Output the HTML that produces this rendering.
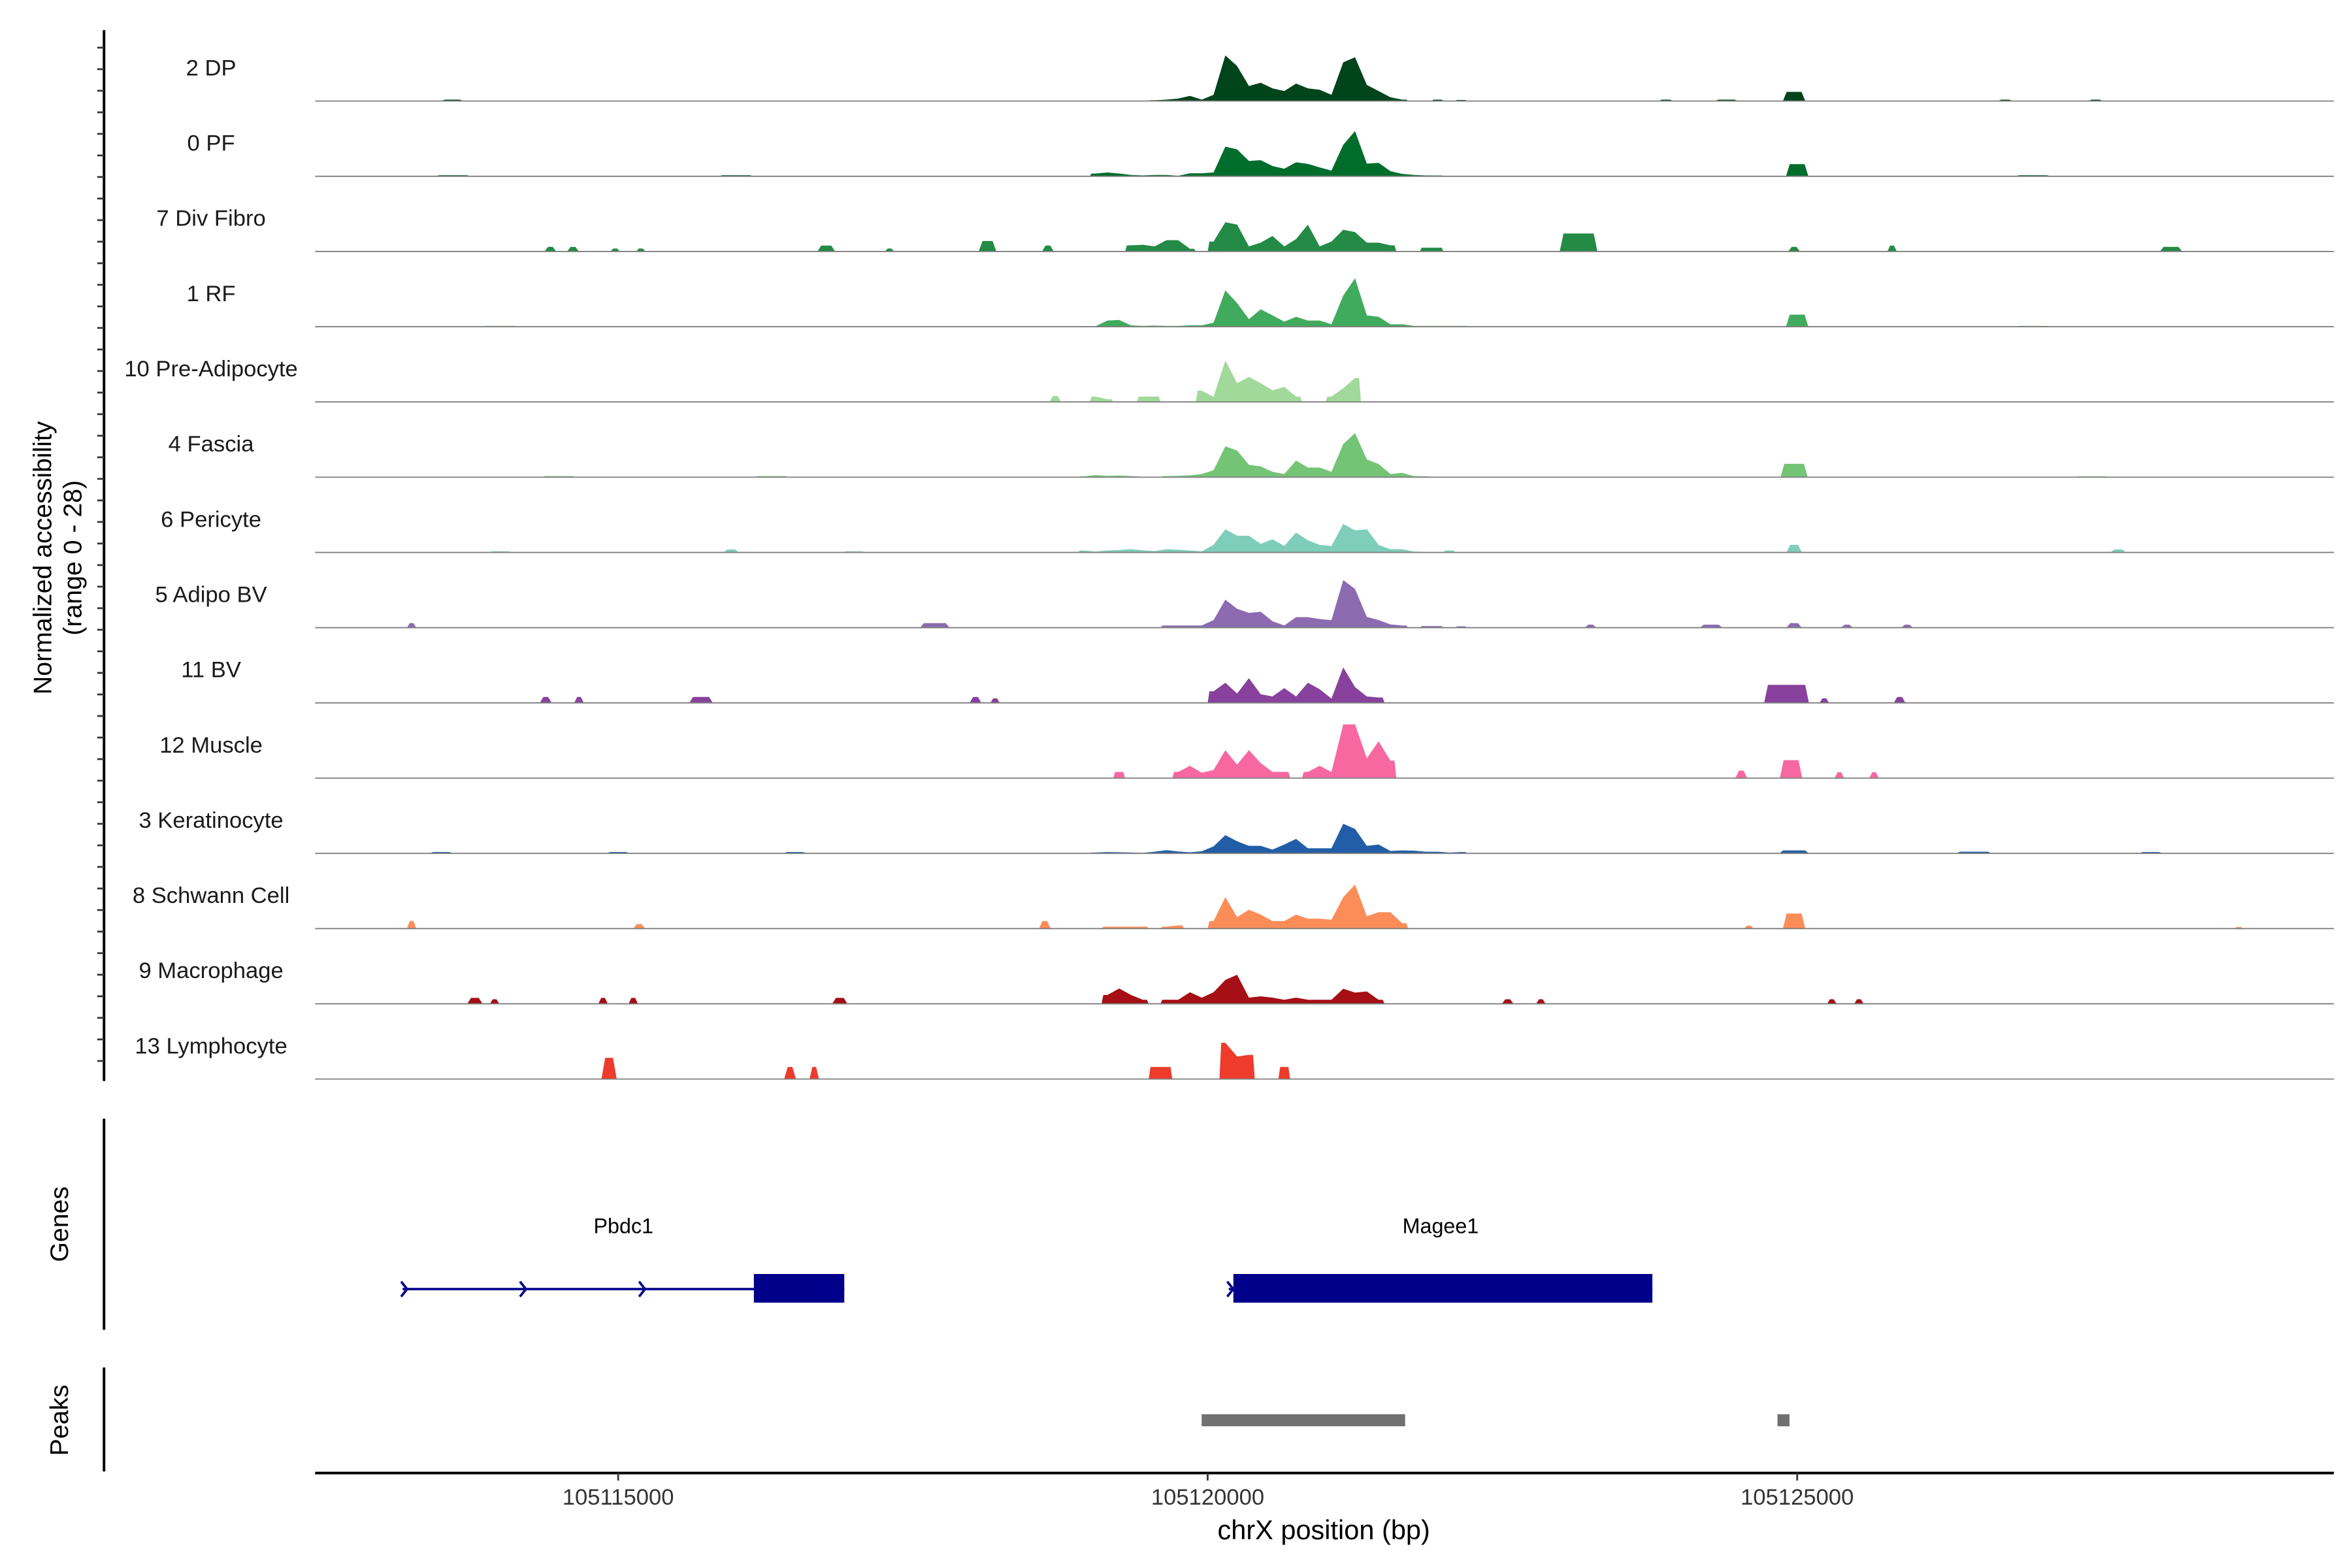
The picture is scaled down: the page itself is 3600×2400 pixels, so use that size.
<!DOCTYPE html>
<html><head><meta charset="utf-8"><style>
html,body{margin:0;padding:0;background:#fff;}
svg{display:block;font-family:"Liberation Sans",Arial,sans-serif;}
</style></head><body>
<svg id="chart" width="3600" height="2400" viewBox="0 0 1560 1040" xmlns="http://www.w3.org/2000/svg">
<g id="tracks"></g>
<g id="leftaxis"></g>
<text transform="translate(34,370) rotate(-90)" text-anchor="middle" font-size="17" fill="#000">Normalized accessibility</text>
<text transform="translate(54,370) rotate(-90)" text-anchor="middle" font-size="17" fill="#000">(range 0 - 28)</text>
<g>
<line x1="69" y1="742" x2="69" y2="882" stroke="#000" stroke-width="1.7"/>
<text transform="translate(45,812) rotate(-90)" text-anchor="middle" font-size="17">Genes</text>
<g id="genes"></g>
</g>
<g>
<line x1="69" y1="907" x2="69" y2="976" stroke="#000" stroke-width="1.7"/>
<text transform="translate(45,942) rotate(-90)" text-anchor="middle" font-size="17">Peaks</text>
<g id="peaks"></g>
</g>
<g id="xaxis">
<line x1="209" y1="977" x2="1548" y2="977" stroke="#000" stroke-width="1.7"/>
</g>
<text x="878" y="1021" text-anchor="middle" font-size="18">chrX position (bp)</text>
</svg>
<script>
const trackNames = ["2 DP","0 PF","7 Div Fibro","1 RF","10 Pre-Adipocyte","4 Fascia","6 Pericyte","5 Adipo BV","11 BV","12 Muscle","3 Keratinocyte","8 Schwann Cell","9 Macrophage","13 Lymphocyte"];
const trackColors = ["#00441B","#006D2C","#238B45","#41AB5D","#A1D99B","#74C476","#7FCDBB","#8C6BB1","#88419D","#F768A1","#225EA8","#FC8D59","#A50F15","#EF3B2C"];
const binStart = 105118900;
const binSize = 100;
const dpValues = [0,0,0,0,0,0,0.3,0.5,0.9,1.9,0.5,2.3,17,13,5.6,6.8,4.7,3.7,6.5,4.7,4.2,2.3,14.4,16.3,6,3.7,1.4,0.5,0,0,0.5,0,0.4];
const pfValues = [0,1.0,1.4,1.0,0.5,0.3,0.5,0.5,0.2,1.1,1.1,1.4,11,10,5.7,6,3.8,2.8,5.2,4.6,3.3,2.1,11.7,16.8,4.7,5,1.9,0.9,0.5,0.3,0.3,0,0];
const divFibroValues = [0,0,0,0,2.3,2.5,1.9,4.2,4.2,1,0,3.7,10.9,10,1.9,3.3,5.8,1.9,4.6,10,1.9,3.7,8.1,7.2,3.3,3.3,2.3,0,0,1.4,1.4,0,0];
const rfValues = [0.2,0.2,2.3,2.5,0.5,0.3,0.4,0.3,0.3,0.5,0.5,1.5,13.5,8.8,2.8,6.5,4.2,1.9,3.7,2.3,2.3,0.9,11.6,18,4.2,3.7,0.9,0.9,0.3,0.3,0.3,0.3,0.3];
const preAdValues = [0,2,1,0,0,2,2,0,0,0,4.2,1.9,15.4,7,9.3,7,4.3,5.6,2,0,0,2,5.1,8.9,0,0,0,0,0,0,0,0,0];
const fasciaValues = [0.3,0.8,0.5,0.6,0.4,0.2,0,0.4,0.5,0.7,1.2,2.6,11.5,9.9,4.6,4,2,1.2,6.2,3.6,3.6,2,12.3,16.4,6.6,4.9,1.2,1.6,0.4,0.3,0,0,0];
const pericyteValues = [0.7,0.3,0.7,0.9,1.2,0.8,0.5,1.2,1,0.7,0.4,2.8,8.6,6.2,6.2,3.2,4.9,2.4,7.4,4.5,2.8,2.4,10.6,8.2,8.6,2.8,1.2,1.2,0.3,0,0,0.7,0];
const adipoBvValues = [0,0,0,0,0,0,0,0.8,0.8,0.8,0.8,2.8,10.4,7,5.5,5.9,2.4,0.8,3.9,3.9,3.2,2.8,17.7,14.4,4,2.8,1.2,0.8,0,0.6,0.6,0,0.5];
const bvValues = [0,0,0,0,0,0,0,0,0,0,0,4.3,7.5,3.5,9.2,3.2,2.4,5.5,2.4,7.5,5.1,1.6,13.2,5.9,2.4,2,0,0,0,0,0,0,0];
const muscleValues = [0,0,0,2.3,0,0,0,0,2.3,4.6,2,3,10.4,5,10.4,5.6,2.3,2.3,0,2.3,4.6,2.3,20,20,7.4,13.7,6.5,0,0,0,0,0,0];
const keratValues = [0,0.3,0.5,0.4,0.3,0.2,0.6,1.2,0.7,0.4,0.8,2.6,6.8,4.5,2.8,2.8,1.4,3.3,5.4,1.9,1.9,1.9,11,9.1,2.8,3.3,0.9,1.1,1,0.6,0.6,0.3,0.5];
const schwannValues = [0,0,0.7,0.7,0.7,0.7,0,0.7,1.2,0,0,2.8,11.7,4.3,7,5.2,2.8,2.8,5.2,3.7,3.7,3.3,11.7,16.4,4.6,6.1,6.1,2,0,0,0,0,0];
const macroValues = [0,0,3.3,5.7,3.3,1.5,0,1.5,1.5,4.3,2.3,4.3,8.9,10.8,2.3,2.8,2.3,1.5,2.3,1.5,1.5,1.5,5.6,4.2,4.6,1.5,0,0,0,0,0,0,0];
const lymphValues = [0,0,0,0,0,0,4.5,4.5,0,0,0,0,13.5,8.4,9,0,0,4.5,0,0,0,0,0,0,0,0,0,0,0,0,0,0,0];
// outlying small peaks: [center bp, value, width bp]
const dpBlips = [[105113594,0.5,190],[105123887,0.5,130],[105124974,3.4,190],[105124400,0.5,200],[105126764,0.5,130],[105127531,0.5,130]];
const pfBlips = [[105125000,4.5,190],[105113600,0.4,300],[105116000,0.4,300],[105127000,0.4,300]];
const divFibroBlips = [[105114425,1.7,100],[105114617,1.7,100],[105114975,1.1,80],[105115192,1.1,80],[105116765,2.2,150],[105117302,1.1,80],[105118133,3.9,150],[105118645,2.2,100],[105123146,6.7,320],[105124974,1.7,100],[105125805,2.2,80],[105128171,1.7,190]];
const rfBlips = [[105125000,4.5,190],[105114000,0.3,300],[105127000,0.3,300]];
const preAdBlips = [[105118708,2.2,100]];
const fasciaBlips = [[105124974,5,230],[105114500,0.4,300],[105116300,0.4,300],[105127500,0.3,300]];
const pericyteBlips = [[105115959,1.1,130],[105124974,2.8,130],[105127723,1.1,130],[105114000,0.4,200],[105117000,0.4,200]];
const adipoBvBlips = [[105113248,1.7,80],[105117686,1.7,250],[105123248,1.1,100],[105124271,1.1,190],[105124974,1.7,130],[105125422,1.1,100],[105125933,1.1,100]];
const bvBlips = [[105114386,2.2,100],[105114668,2.2,80],[105115703,2.2,200],[105118031,2.2,100],[105118197,1.7,80],[105124910,6.7,380],[105125230,1.7,80],[105125869,2.2,100]];
const muscleBlips = [[105124526,2.8,100],[105124948,6.7,190],[105125358,2.2,80],[105125652,2.2,80]];
const keratBlips = [[105124974,1.1,250],[105113500,0.5,200],[105115000,0.5,200],[105116500,0.5,200],[105126500,0.6,300],[105128000,0.5,200]];
const schwannBlips = [[105113248,2.8,80],[105115179,1.7,100],[105118619,2.8,100],[105124590,1.1,80],[105124974,5.6,190],[105128746,0.6,80]];
const macroBlips = [[105113785,2.2,130],[105113952,1.7,80],[105114872,2.2,80],[105115128,2.2,80],[105116880,2.2,130],[105122545,1.7,100],[105122826,1.7,80],[105125294,1.7,80],[105125524,1.7,80]];
const lymphBlips = [[105114923,7.9,130],[105116458,4.5,100],[105116663,4.5,80]];
const trackValues = [dpValues,pfValues,divFibroValues,rfValues,preAdValues,fasciaValues,pericyteValues,adipoBvValues,bvValues,muscleValues,keratValues,schwannValues,macroValues,lymphValues];
const trackBlips = [dpBlips,pfBlips,divFibroBlips,rfBlips,preAdBlips,fasciaBlips,pericyteBlips,adipoBvBlips,bvBlips,muscleBlips,keratBlips,schwannBlips,macroBlips,lymphBlips];
const xTicks = [105115000,105120000,105125000];
const yMax = 28;
const genes = [{name:"Pbdc1",start:105113172,end:105116918,cdsStart:105116151,cdsEnd:105116918,arrows:[105113172,105114180,105115190]},
               {name:"Magee1",start:105120179,end:105123772,cdsStart:105120218,cdsEnd:105123772,arrows:[105120179]}];
const peakStarts = [105119949,105124833];
const peakEnds = [105121675,105124935];

const NS="http://www.w3.org/2000/svg";
const X0=209,X1=1548;
function x(bp){return 410+(bp-105115000)*0.0782;}
const trackH=49.9, firstBase=67;
function yv(v){return v/yMax*trackH;}
function mk(tag,attrs,parent){const e=document.createElementNS(NS,tag);for(const k in attrs)e.setAttribute(k,attrs[k]);parent.appendChild(e);return e;}

const tg=document.getElementById('tracks');
trackNames.forEach((nm,k)=>{
  const base=firstBase+k*trackH;
  const g=mk('g',{},tg);
  
  
  let d='';
  const vals=trackValues[k];
  let i=0;
  while(i<vals.length){
    if(vals[i]<=0){i++;continue;}
    let j=i;
    while(j<vals.length && vals[j]>0) j++;
    d+=`M${x(binStart+i*binSize)},${base}`;
    d+=`L${x(binStart+i*binSize+15)},${base-yv(vals[i])}`;
    for(let m=i;m<j;m++){
      d+=`L${x(binStart+m*binSize+binSize/2)},${base-yv(vals[m])}`;
    }
    d+=`L${x(binStart+j*binSize-15)},${base-yv(vals[j-1])}`;
    d+=`L${x(binStart+j*binSize)},${base}Z`;
    i=j;
  }
  trackBlips[k].forEach(bl=>{
    const a=x(bl[0]-bl[2]/2), b=x(bl[0]+bl[2]/2), h=yv(bl[1]);
    const ins=Math.min((b-a)*0.3,2.5);
    d+=`M${a},${base}L${a+ins},${base-h}L${b-ins},${base-h}L${b},${base}Z`;
  });
  const p=mk('path',{d:d,fill:trackColors[k]},g);
  
  
  const ln=mk('line',{x1:X0,x2:X1,y1:base,y2:base,stroke:'#7f7f7f','stroke-width':0.8},g);
  
  
  const t=mk('text',{x:140,y:base-17,'text-anchor':'middle','font-size':15,fill:'#1a1a1a'},g);
  
  
  t.textContent=nm;
});

const la=document.getElementById('leftaxis');
mk('line',{x1:69,y1:20,x2:69,y2:717,stroke:'#000','stroke-width':1.7},la);
for(let y=31.6;y<717;y+=14.3){mk('line',{x1:64.5,x2:69,y1:y,y2:y,stroke:'#333','stroke-width':1.2},la);}

const gg=document.getElementById('genes');
genes.forEach(gn=>{
  const g=mk('g',{},gg);
  
  
  mk('line',{x1:x(gn.start),x2:x(gn.end),y1:855,y2:855,stroke:'#00008B','stroke-width':1.6},g);
  mk('rect',{x:x(gn.cdsStart),y:845,width:x(gn.cdsEnd)-x(gn.cdsStart),height:19,fill:'#00008B'},g);
  gn.arrows.forEach(a=>{const ax=x(a);mk('path',{d:`M${ax-1},850L${ax+3},855L${ax-1},860`,fill:'none',stroke:'#00008B','stroke-width':1.6},g);});
  const t=mk('text',{x:(x(gn.start)+x(gn.end))/2,y:818,'text-anchor':'middle','font-size':14},g);
  
  
  t.textContent=gn.name;
});

const pg=document.getElementById('peaks');
peakStarts.forEach((s,i)=>{
  const r=mk('rect',{x:x(s),y:938,width:x(peakEnds[i])-x(s),height:8,fill:'#707070'},pg);
  
  
});

const xa=document.getElementById('xaxis');
xTicks.forEach(v=>{
  mk('line',{x1:x(v),x2:x(v),y1:977,y2:982,stroke:'#333','stroke-width':1.2},xa);
  const t=mk('text',{x:x(v),y:998,'text-anchor':'middle','font-size':15,fill:'#333'},xa);
  
  
  t.textContent=v;
});
</script>
</body></html>
